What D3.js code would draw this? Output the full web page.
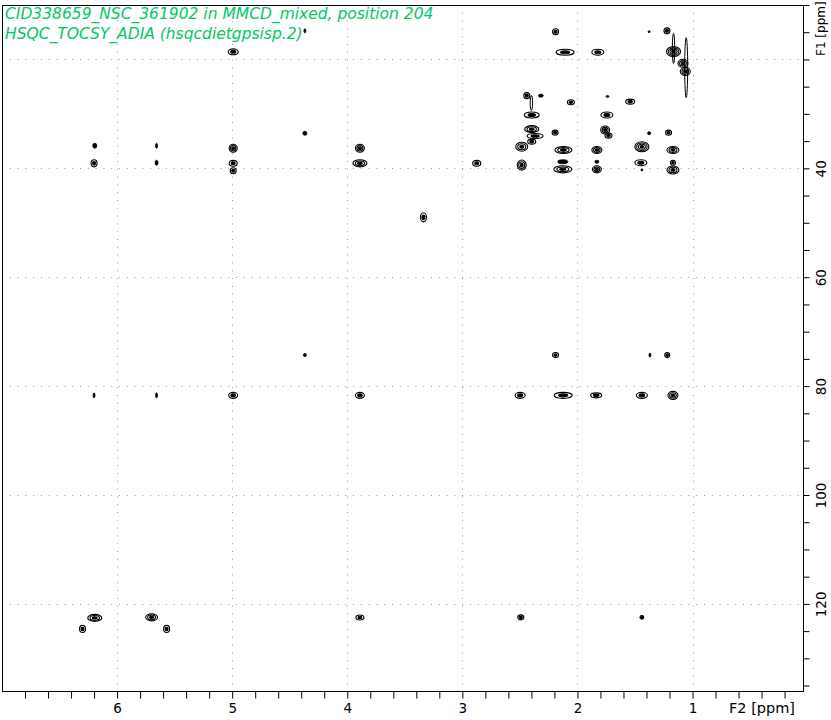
<!DOCTYPE html>
<html><head><meta charset="utf-8">
<script src="https://cdn.jsdelivr.net/npm/d3@7"></script>
<style>
html,body{margin:0;padding:0;background:#fff;}
svg{display:block;}
text{font-family:"DejaVu Sans",sans-serif;}
</style></head>
<body>
<svg id="chart" width="831" height="720"></svg>
<script>
// ---- data (ppm) ----
const titleLines = ["CID338659_NSC_361902 in MMCD_mixed, position 204", "HSQC_TOCSY_ADIA (hsqcdietgpsisp.2)"];
const f2Range = [7.0, 0.04];
const f1Range = [10, 136];
const f2Labels = [6, 5, 4, 3, 2, 1];
const f1Labels = [40, 60, 80, 100, 120];
const f2GridValues = [6, 5, 4, 3, 2, 1];
const f1GridValues = [20, 40, 60, 80, 100, 120];
const f2AxisTitle = "F2 [ppm]";
const f1AxisTitle = "F1 [ppm]";

// cross peaks: F2 shift, F1 shift, F2 linewidth, F1 linewidth (ppm)
const peakF2 = [2.19,1.377,1.222,2.107,1.823,1.165,1.083,1.063,1.055,1.165,
  2.44,2.318,2.057,1.739,1.542,2.397,2.40,1.744,2.397,2.368,2.194,1.759,1.73,1.377,1.208,
  2.484,2.397,2.122,1.831,1.44,1.17,2.484,2.127,2.127,1.831,1.831,1.449,1.44,1.17,1.17,
  4.368,6.194,5.657,4.991,3.89,6.2,5.657,4.991,4.991,3.89,2.875,4.991,4.368,3.338,
  4.368,2.19,1.37,1.22,
  6.2,5.657,4.991,3.89,2.498,2.124,1.837,1.44,1.17,
  6.194,6.3,5.70,5.57,3.89,2.492,1.44];
const peakF1 = [14.9,14.9,14.75,18.67,18.67,18.56,20.7,22.2,21.5,18.0,
  26.65,26.65,27.86,26.8,27.75,30.2,28.0,30.2,32.8,34.06,33.45,32.96,34.0,33.56,33.45,
  36.03,35.1,36.63,36.63,36.03,36.63,39.4,38.79,40.18,38.79,40.18,38.97,40.3,38.97,40.3,
  33.56,35.84,35.84,36.32,36.32,39.08,38.97,39.08,40.44,39.08,39.08,18.6,14.75,49.0,
  74.3,74.3,74.3,74.3,
  81.7,81.7,81.7,81.7,81.7,81.7,81.7,81.7,81.7,
  122.57,124.6,122.47,124.6,122.5,122.47,122.47];
const peakW2 = [0.052,0.017,0.052,0.157,0.104,0.122,0.087,0.087,0.026,0.017,
  0.052,0.043,0.061,0.026,0.078,0.13,0.017,0.104,0.122,0.139,0.052,0.078,0.061,0.026,0.052,
  0.104,0.07,0.148,0.087,0.122,0.104,0.078,0.087,0.157,0.035,0.078,0.104,0.017,0.043,0.104,
  0.035,0.035,0.017,0.07,0.078,0.052,0.026,0.07,0.052,0.122,0.07,0.087,0.017,0.052,
  0.026,0.052,0.017,0.043,
  0.017,0.017,0.078,0.078,0.087,0.157,0.096,0.096,0.087,
  0.122,0.052,0.104,0.052,0.07,0.052,0.035];
const peakW1 = [1.1,0.37,1.1,1.1,1.1,1.84,1.47,1.47,11.0,5.5,
  1.1,0.55,0.92,0.3,0.92,1.1,2.76,1.1,1.29,0.92,0.92,1.47,0.92,0.55,0.92,
  1.66,0.92,1.29,1.29,1.84,1.29,1.84,0.74,1.29,0.55,1.29,1.1,0.37,0.92,1.47,
  0.74,0.92,0.92,1.47,1.47,1.29,0.92,1.1,1.1,1.29,1.1,1.1,0.74,1.66,
  0.55,0.92,0.74,0.92,
  0.92,0.92,1.1,1.1,1.1,1.1,0.92,1.1,1.47,
  1.29,1.29,1.29,1.29,0.92,0.92,0.74];

// ---- layout ----
const svg = d3.select("#chart");
const pLeft = 2, pRight = 803, pTop = 5, pBottom = 691;
const x = d3.scaleLinear().domain(f2Range).range([pLeft, pRight]);
const y = d3.scaleLinear().domain(f1Range).range([pTop, pBottom]);

// grid
const grid = svg.append("g").attr("stroke", "#9a9a9a").attr("stroke-width", 1).attr("stroke-dasharray", "1,6.8");
grid.selectAll("line.v").data(f2GridValues).join("line").attr("class", "v")
  .attr("x1", d => Math.round(x(d)) + 0.5).attr("x2", d => Math.round(x(d)) + 0.5)
  .attr("y1", pTop).attr("y2", pBottom);
grid.selectAll("line.h").data(f1GridValues).join("line").attr("class", "h")
  .attr("y1", d => Math.round(y(d)) + 0.5).attr("y2", d => Math.round(y(d)) + 0.5)
  .attr("x1", pLeft).attr("x2", pRight);

// peaks
const peaks = peakF2.map((d, i) => ({f2: d, f1: peakF1[i], w2: peakW2[i], w1: peakW1[i]}));
const pg = svg.append("g");
peaks.forEach(p => {
  const cx = x(p.f2), cy = y(p.f1);
  const rx = Math.abs(x(p.f2 + p.w2 / 2) - x(p.f2 - p.w2 / 2)) / 2;
  const ry = Math.abs(y(p.f1 + p.w1 / 2) - y(p.f1 - p.w1 / 2)) / 2;
  const m = Math.min(rx, ry);
  if (ry / Math.max(rx, 0.5) > 5) {
    // elongated t1-noise streak: thin outline only
    pg.append("ellipse").attr("cx", cx).attr("cy", cy).attr("rx", Math.max(rx, 1.2)).attr("ry", ry)
      .attr("fill", "none").attr("stroke", "#000").attr("stroke-width", 1);
    return;
  }
  if (m < 2.2) {
    pg.append("ellipse").attr("cx", cx).attr("cy", cy).attr("rx", Math.max(rx, 0.9)).attr("ry", Math.max(ry, 0.9))
      .attr("fill", "#000").attr("stroke", "#000").attr("stroke-width", 0.8);
    return;
  }
  const n = Math.max(2, Math.round(m / 1.3));
  for (let k = 0; k < n; k++) {
    const f = 1 - k / n;
    pg.append("ellipse").attr("cx", cx).attr("cy", cy)
      .attr("rx", Math.max(rx * f, 0.6)).attr("ry", Math.max(ry * f, 0.6))
      .attr("fill", k === n - 1 ? "#000" : "none").attr("stroke", "#000").attr("stroke-width", 1.1);
  }
});

// frame
svg.append("rect").attr("x", pLeft + 0.5).attr("y", pTop + 0.5).attr("width", pRight - pLeft).attr("height", pBottom - pTop)
  .attr("fill", "none").attr("stroke", "#000").attr("stroke-width", 1);

// bottom axis
const f2Ticks = d3.range(34, 0, -1).map(v => v / 5).filter(v => v < f2Range[0] && v > f2Range[1]);
const xAxis = d3.axisBottom(x).tickValues(f2Ticks).tickSize(7).tickSizeOuter(0)
  .tickFormat(d => f2Labels.some(l => Math.abs(l - d) < 1e-6) ? d3.format("d")(d) : "");
const gx = svg.append("g").attr("transform", `translate(0,${pBottom + 0.5})`).call(xAxis);
gx.select(".domain").remove();
gx.selectAll("line").attr("stroke", "#000");
gx.selectAll("text").attr("font-size", 13.5).attr("fill", "#000").attr("y", 12).attr("dy", "0.71em")
  .attr("font-family", "DejaVu Sans");
svg.append("text").attr("x", 729).attr("y", 713).attr("font-size", 14.5).attr("fill", "#000").text(f2AxisTitle);

// right axis
const f1Ticks = d3.range(10, 136, 5);
const yAxis = d3.axisRight(y).tickValues(f1Ticks).tickSize(6).tickSizeOuter(0)
  .tickFormat(d => f1Labels.includes(d) ? d3.format("d")(d) : "");
const gy = svg.append("g").attr("transform", `translate(${pRight + 0.5},0)`).call(yAxis);
gy.select(".domain").remove();
gy.selectAll("line").attr("stroke", "#000");
gy.selectAll("text").attr("font-size", 13.5).attr("fill", "#000").attr("font-family", "DejaVu Sans")
  .attr("x", 0).attr("y", 22).attr("dy", 0).attr("text-anchor", "middle").attr("transform", "rotate(-90)");
svg.append("text").attr("transform", `translate(${pRight + 22},56) rotate(-90)`)
  .attr("font-size", 12).attr("fill", "#000").text(f1AxisTitle);

// title
const tg = svg.append("g").attr("fill", "#00c864").attr("font-size", 15.5).attr("font-style", "italic");
titleLines.forEach((t, i) => tg.append("text").attr("x", 5).attr("y", 19 + i * 20).text(t));
</script>
</body></html>
